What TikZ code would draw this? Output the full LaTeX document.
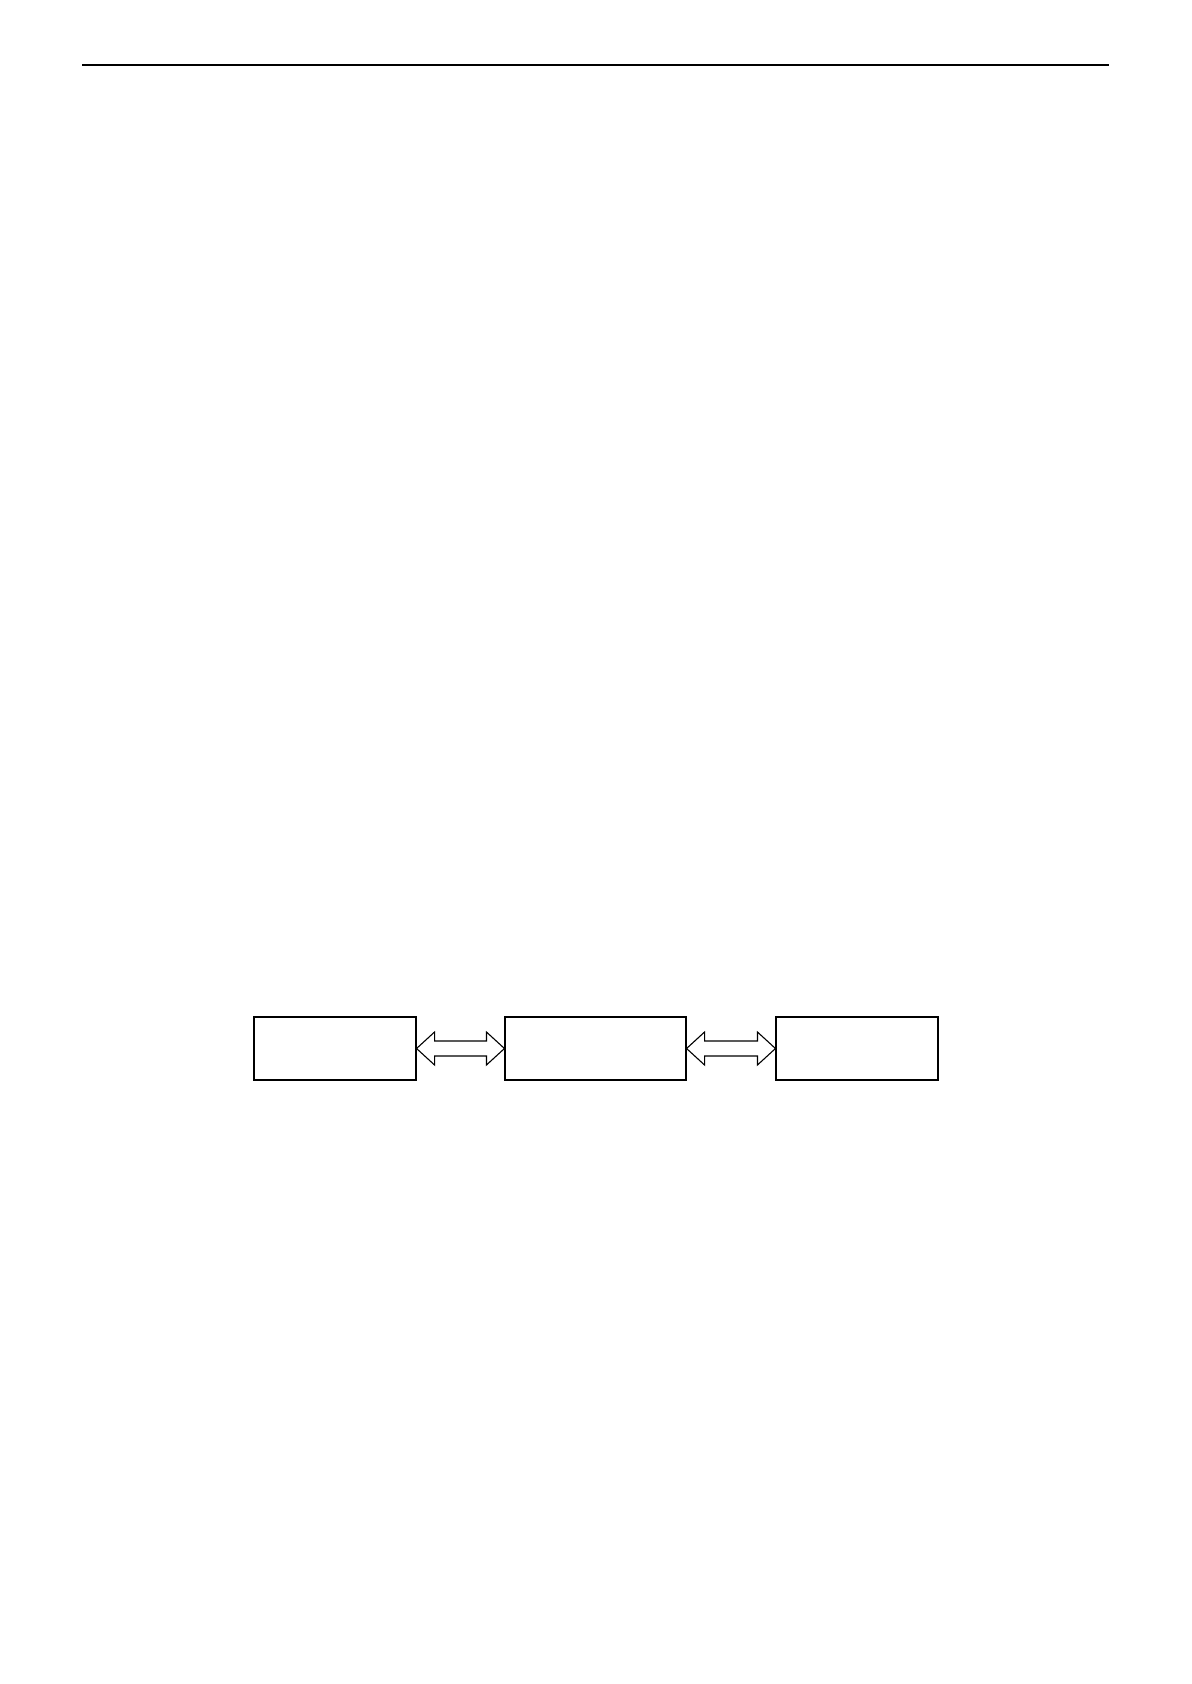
\documentclass[tikz,border=0pt]{standalone}
\usetikzlibrary{calc}
\begin{document}
\begin{tikzpicture}[x=0.5pt,y=-0.5pt,
  boxnode/.style={draw,line width=0.55pt,inner sep=0pt,minimum height=31.5pt},
  dblarrow/.style={draw,line width=0.55pt,fill=white,line join=miter},
  rule/.style={line width=0.7pt}]
\useasboundingbox (0,0) rectangle (1191,1684);
\coordinate (rl) at (82,65);
\coordinate (rr) at (1109,65);
\draw[rule] (rl) -- (rr);
\node[boxnode,minimum width=81pt] (b1) at (335,1048.5) {};
\node[boxnode,minimum width=90.5pt] (b2) at (595.5,1048.5) {};
\node[boxnode,minimum width=81pt] (b3) at (857,1048.5) {};
\draw[dblarrow] (b1.east) -- ++(18,-16.5) -- ++(0,9) -- ($(b2.west)+(-18,-7.5)$) -- ++(0,-9) -- (b2.west) -- ++(-18,16.5) -- ++(0,-9) -- ($(b1.east)+(18,7.5)$) -- ++(0,9) -- cycle;
\draw[dblarrow] (b2.east) -- ++(18,-16.5) -- ++(0,9) -- ($(b3.west)+(-18,-7.5)$) -- ++(0,-9) -- (b3.west) -- ++(-18,16.5) -- ++(0,-9) -- ($(b2.east)+(18,7.5)$) -- ++(0,9) -- cycle;
\end{tikzpicture}
\end{document}
